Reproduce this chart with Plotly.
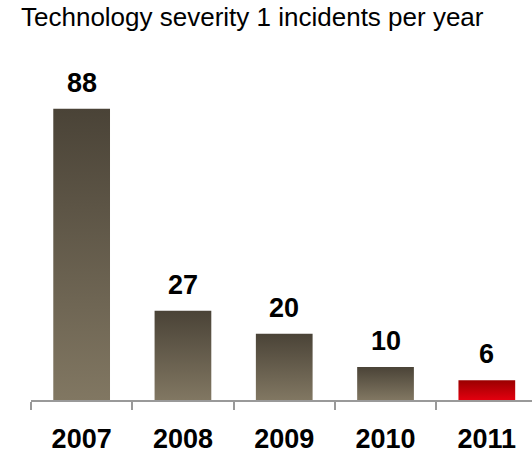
import plotly.graph_objects as go

# Severity-1 technology incidents by year
years = ["2007", "2008", "2009", "2010", "2011"]
incidents = [88, 27, 20, 10, 6]

# Vertical gradient per bar: (bottom colour, top colour)
bar_gradients = [
    ("#817762", "#4a4337"),
    ("#817762", "#4a4337"),
    ("#817762", "#4a4337"),
    ("#817762", "#4a4337"),
    ("#e3000f", "#9a0000"),
]

BAR_WIDTH = 0.56
FONT = "Liberation Sans, Arial, sans-serif"

fig = go.Figure()

# Each bar is a filled rectangle so it can carry its own vertical gradient
for i, (year, value) in enumerate(zip(years, incidents)):
    x0, x1 = i - BAR_WIDTH / 2, i + BAR_WIDTH / 2
    bottom, top = bar_gradients[i]
    fig.add_trace(go.Scatter(
        x=[x0, x1, x1, x0, x0],
        y=[0, 0, value, value, 0],
        mode="lines",
        line=dict(width=0),
        fill="toself",
        fillgradient=dict(
            type="vertical",
            colorscale=[[0, bottom], [1, top]],
        ),
        hoverinfo="skip",
        showlegend=False,
    ))
    fig.add_annotation(
        x=i, y=value, text=f"<b>{value}</b>",
        showarrow=False, yanchor="bottom", yshift=9,
        font=dict(family=FONT, size=27, color="#000000"),
    )

fig.update_layout(
    width=532, height=454,
    margin=dict(l=31, r=0, t=69, b=49),
    paper_bgcolor="white", plot_bgcolor="white",
    title=dict(
        text="Technology severity 1 incidents per year",
        x=21 / 532, xanchor="left", xref="container",
        y=1 - 8 / 454, yanchor="top", yref="container",
        font=dict(family=FONT, size=26, color="#000000"),
        pad=dict(t=0, b=0, l=0, r=0),
    ),
    xaxis=dict(
        range=[-0.5, 4.446],
        tickmode="array", tickvals=list(range(len(years))),
        ticktext=[f"<b>{y}</b>" for y in years],
        ticks="", showgrid=False, zeroline=False,
        showline=True, linecolor="#999999", linewidth=2,
        tickfont=dict(family=FONT, size=27, color="#000000"),
        ticklabelstandoff=14,
        minor=dict(tick0=-0.5, dtick=1, ticks="outside", ticklen=8,
                   tickwidth=2, tickcolor="#999999", showgrid=False),
        fixedrange=True,
    ),
    yaxis=dict(
        range=[0, 100], visible=False, showgrid=False, zeroline=False,
        fixedrange=True,
    ),
)

fig.write_html("out.html")
